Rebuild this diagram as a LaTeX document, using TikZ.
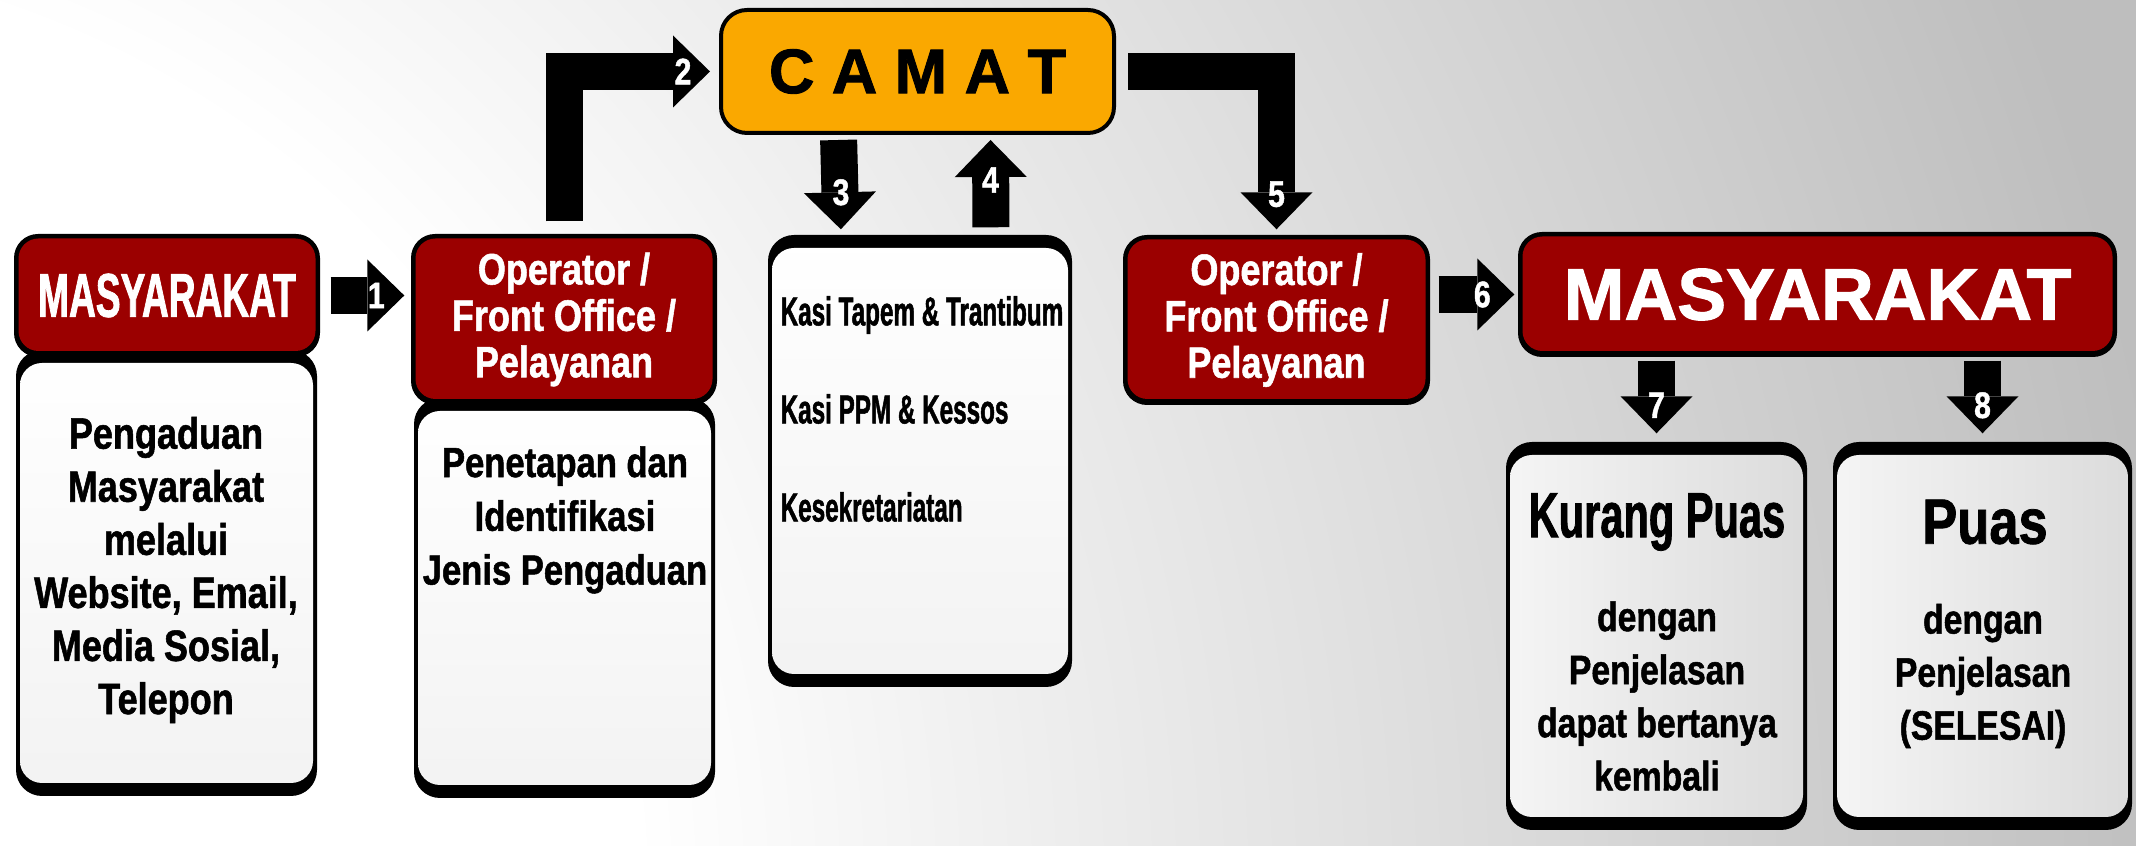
\documentclass[tikz,border=0pt]{standalone}
\usepackage{fontspec}
\setmainfont{Liberation Sans}[FakeStretch=0.82, FakeBold=1.2]
\newfontfamily\condfont{Liberation Sans}[FakeStretch=0.6, FakeBold=1.2]
\newfontfamily\tightfont{Liberation Sans}[FakeStretch=0.65, FakeBold=1.2]
\newfontfamily\widefont{Liberation Sans}[FakeBold=1.5]
\usetikzlibrary{arrows.meta,positioning}

\definecolor{boxred}{RGB}{155,0,0}
\definecolor{camatorange}{RGB}{250,168,0}
\definecolor{bggray}{RGB}{190,190,190}
\pgfdeclareradialshading{bgradial}{\pgfpoint{0bp}{0bp}}{color(0bp)=(white); color(9bp)=(white);
  color(24bp)=(bggray); color(50bp)=(bggray)}

\begin{document}
\begin{tikzpicture}[x=0.1mm, y=-0.1mm,
  redbox/.style={fill=black, rounded corners=2.4mm, text=white, align=center, inner sep=0pt,
    font=\bfseries\fontsize{12.5}{13.2}\selectfont,
    path picture={\fill[boxred, rounded corners=2mm]
      ([shift={(0.45mm,-0.45mm)}]path picture bounding box.north west) rectangle
      ([shift={(-0.45mm,0.6mm)}]path picture bounding box.south east);}},
  descbox/.style={fill=black, rounded corners=2.6mm, inner sep=0pt,
    path picture={\shade[top color=white, bottom color=gray!10, rounded corners=2.2mm]
      ([shift={(0.4mm,-1.3mm)}]path picture bounding box.north west) rectangle
      ([shift={(-0.4mm,1.3mm)}]path picture bounding box.south east);}},
  resultbox/.style={fill=black, rounded corners=2.6mm, inner sep=0pt,
    path picture={\shade[left color=gray!8, right color=gray!28, rounded corners=2.2mm]
      ([shift={(0.4mm,-1.3mm)}]path picture bounding box.north west) rectangle
      ([shift={(-0.4mm,1.3mm)}]path picture bounding box.south east);}},
  camatbox/.style={fill=camatorange, draw=black, line width=0.4mm, rounded corners=2.6mm,
    inner sep=0pt, font=\widefont\bfseries\fontsize{17.9}{20}\selectfont},
  blockarrow/.style={line width=3.7mm, line join=miter,
    -{Triangle[length=3.7mm, width=7.2mm, line width=0pt]}},
  numlbl/.style={text=white, inner sep=0pt, font=\bfseries\fontsize{10.5}{11}\selectfont},
  desctext/.style={align=center, inner sep=0pt, font=\bfseries\fontsize{12.5}{15.1}\selectfont}]

%Hintergrund
\useasboundingbox (0,0) rectangle (2136,846);
\begin{scope}
  \clip (0,0) rectangle (2136,846);
  \shade[shading=bgradial] (-300,900) circle (2600);
\end{scope}

%Kaesten
\node[descbox, minimum width=30.1mm, minimum height=44.6mm] (desc1) at (166.5,573) {};
\node[redbox, minimum width=30.6mm, minimum height=12.3mm,
  font=\condfont\bfseries\fontsize{17.6}{19}\selectfont] (mas1) at (167,295.5) {MASYARAKAT};
\node[descbox, minimum width=30.1mm, minimum height=40mm] (desc2) at (564.5,598) {};
\node[redbox, minimum width=30.6mm, minimum height=17.1mm] (op1) at (564,319.5)
  {Operator /\\Front Office /\\Pelayanan};
\node[camatbox, minimum width=39.3mm, minimum height=12.3mm] (camat) at (917.5,71.5) {C A M A T};
\node[descbox, minimum width=30.4mm, minimum height=45.2mm] (kasi) at (920,461) {};
\node[redbox, minimum width=30.7mm, minimum height=17mm] (op2) at (1276.5,320)
  {Operator /\\Front Office /\\Pelayanan};
\node[redbox, minimum width=59.9mm, minimum height=12.5mm,
  font=\widefont\bfseries\fontsize{20.8}{22}\selectfont] (mas2) at (1817.5,294.5) {MASYARAKAT};
\node[resultbox, minimum width=30.1mm, minimum height=38.8mm] (kurang) at (1656.5,636) {};
\node[resultbox, minimum width=29.9mm, minimum height=38.8mm] (puas) at (1982.5,636) {};

%Texte
\node[desctext] (t1) at (166,570)
  {Pengaduan\\Masyarakat\\melalui\\Website, Email,\\Media Sosial,\\Telepon};
\node[desctext, font=\bfseries\fontsize{12}{15.3}\selectfont] (t2) at (565,520)
  {Penetapan dan\\Identifikasi\\Jenis Pengaduan};
\node[desctext, align=left, anchor=west, font=\condfont\bfseries\fontsize{11.5}{27.9}\selectfont]
  (t3) at (780,409) {Kasi Tapem \& Trantibum\\Kasi PPM \& Kessos\\Kesekretariatan};
\node[desctext, font=\tightfont\bfseries\fontsize{18.2}{20}\selectfont] (t4) at (1657,522) {Kurang Puas};
\node[desctext, font=\bfseries\fontsize{11.7}{15.1}\selectfont] (t5) at (1657,696)
  {dengan\\Penjelasan\\dapat bertanya\\kembali};
\node[desctext, font=\bfseries\fontsize{18.2}{20}\selectfont] (t6) at (1985,522) {Puas};
\node[desctext, font=\bfseries\fontsize{11.7}{15.1}\selectfont] (t7) at (1983,676)
  {dengan\\Penjelasan\\(SELESAI)};

%Pfeile
\coordinate (a1) at (op1.west |- mas1.east);
\coordinate (a6) at (op2.east |- mas2.west);
\coordinate (a7) at (kurang.north |- mas2.south);
\coordinate (a8) at (puas.north |- mas2.south);
\draw[blockarrow, shorten <=1mm, shorten >=0.6mm] (mas1.east) -- (a1);
\draw[blockarrow, shorten <=1.2mm, shorten >=0.9mm] (op1.north) |- (camat.west);
\draw[blockarrow, shorten <=0.5mm, shorten >=0.5mm] ([xshift=-7.9mm]camat.south) -- ([xshift=-7.9mm]kasi.north);
\draw[blockarrow, shorten <=0.7mm, shorten >=0.5mm] ([xshift=7.1mm]kasi.north) -- ([xshift=7.3mm]camat.south);
\draw[blockarrow, shorten <=1.2mm, shorten >=0.5mm] (camat.east) -| (op2.north);
\draw[blockarrow, shorten <=0.8mm, shorten >=0.3mm] (a6) -- (mas2.west);
\draw[blockarrow, shorten <=0.3mm, shorten >=0.8mm] (a7) -- (kurang.north);
\draw[blockarrow, shorten <=0.3mm, shorten >=0.8mm] (a8) -- (puas.north);

%Nummern
\node[numlbl] (n1) at ([xshift=-3.4mm]a1) {1};
\node[numlbl] (n2) at ([xshift=-3.6mm]camat.west) {2};
\node[numlbl] (n3) at ([xshift=-7.9mm, yshift=4.2mm]kasi.north) {3};
\node[numlbl] (n4) at ([xshift=7.3mm, yshift=-4.5mm]camat.south) {4};
\node[numlbl] (n5) at ([yshift=4mm]op2.north) {5};
\node[numlbl] (n6) at ([xshift=-3.5mm]mas2.west) {6};
\node[numlbl] (n7) at ([yshift=3.6mm]kurang.north) {7};
\node[numlbl] (n8) at ([yshift=3.6mm]puas.north) {8};
\end{tikzpicture}
\end{document}
